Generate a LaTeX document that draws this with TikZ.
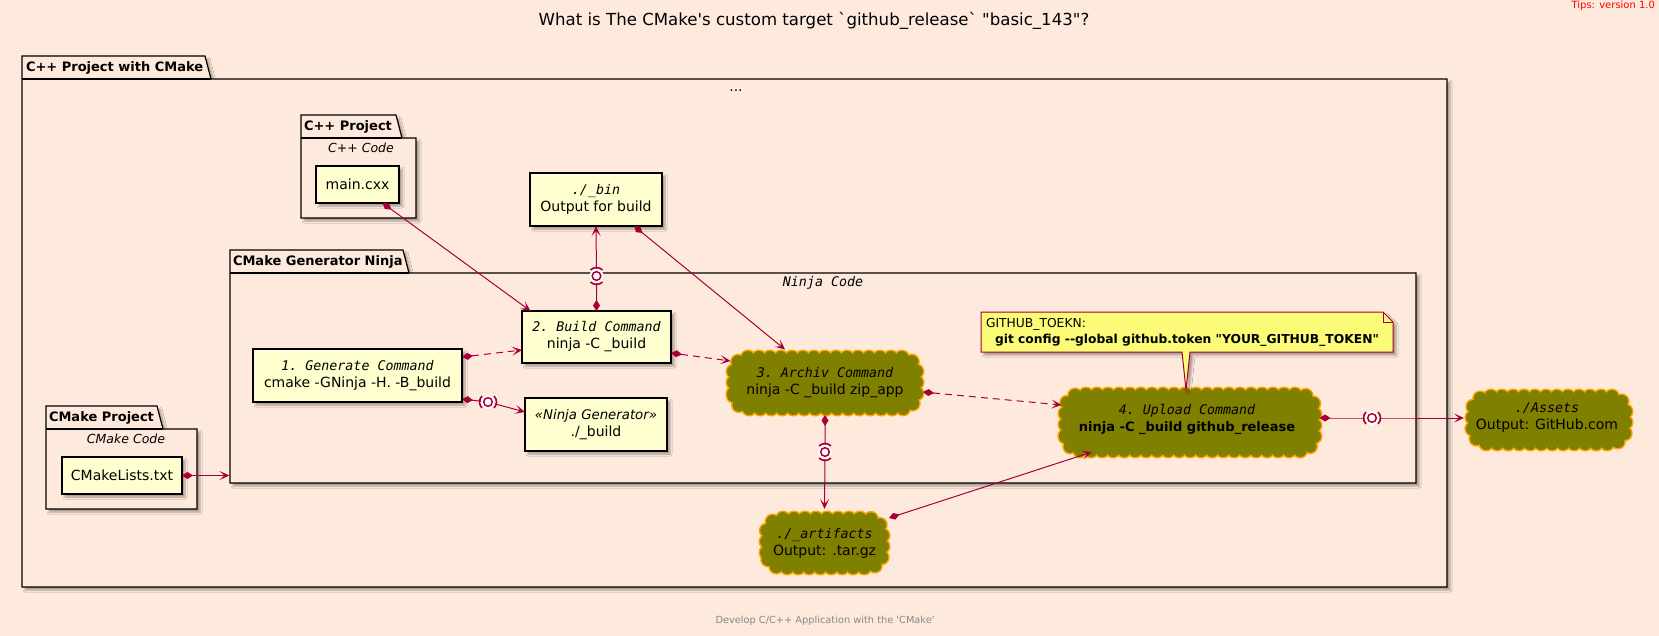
\documentclass[tikz,border=0pt]{standalone}
\usepackage{fontspec}
\setmainfont{DejaVu Sans}
\setmonofont{DejaVu Sans Mono}
\newfontfamily\plainsf{DejaVu Sans}
\usetikzlibrary{arrows.meta,decorations.markings,shadows.blur,calc}
\definecolor{bgc}{HTML}{FEEADC}
\definecolor{boxfill}{HTML}{FEFECE}
\definecolor{arrowc}{HTML}{A80036}
\definecolor{cloudfill}{HTML}{808000}
\definecolor{cloudline}{HTML}{FFA500}
\definecolor{notefill}{HTML}{FBFB77}
\definecolor{footc}{HTML}{888888}
\newcommand{\fsz}[1]{\fontsize{#1}{17}\selectfont}
\newcommand{\mi}[1]{{\fontsize{13.3}{17}\selectfont\ttfamily\itshape #1}}
\newcommand{\pkgbox}[6]{%
  \path[pkgline] (#1,#3) -- (#1,#2) -- (#4,#2) -- (#4+6,#3) -- (#5,#3) -- (#5,#6) -- (#1,#6) -- cycle;
  \draw[line width=1.2pt] (#1,#3) -- (#4+6,#3);}
\newcommand{\sock}[2]{%
  \fill[white] (#1) circle (7);
  \draw[arrowc, line width=1.5pt] (#1) circle (4.3);
  \draw[arrowc, line width=1.6pt] (#1) ++(#2-45:8.5) arc[start angle=#2-45, end angle=#2+45, radius=8.5];
  \draw[arrowc, line width=1.6pt] (#1) ++(#2+135:8.5) arc[start angle=#2+135, end angle=#2+225, radius=8.5];}
% scalloped cloud drawn round an (empty) named node
\newcommand{\cloudbg}[1]{%
  \path[rounded corners=15pt, postaction={decorate, decoration={markings, mark=between positions 0 and 1 step 11pt with {\draw[cloudline, line width=3pt] (0,0) circle[radius=6.5pt];}}}] ($(#1.south west)+(6.5,-6.5)$) rectangle ($(#1.north east)+(-6.5,6.5)$);
  \path[rounded corners=15pt, postaction={decorate, decoration={markings, mark=between positions 0 and 1 step 11pt with {\fill[cloudfill] (0,0) circle[radius=6.5pt];}}}] ($(#1.south west)+(6.5,-6.5)$) rectangle ($(#1.north east)+(-6.5,6.5)$);
  \fill[cloudfill, rounded corners=15pt] ($(#1.south west)+(6.5,-6.5)$) rectangle ($(#1.north east)+(-6.5,6.5)$);}
\begin{document}
\begin{tikzpicture}[x=1pt,y=-1pt,
  every node/.style={inner sep=0pt, outer sep=0pt},
  shad/.style={blur shadow={shadow xshift=3pt, shadow yshift=-3pt, shadow blur radius=2pt, shadow opacity=35}},
  pkgline/.style={draw=black, line width=1.2pt, fill=bgc, shad},
  pkgtitle/.style={anchor=west, font=\fontsize{13}{15}\selectfont\bfseries},
  pkgdesc/.style={font=\fontsize{12.5}{15}\selectfont\itshape},
  box/.style={draw=black, line width=1.2pt, fill=boxfill, shad, align=center, font=\fsz{14}},
  cloudtext/.style={align=center, font=\fsz{14}},
  conn/.style={draw=arrowc, line width=1pt, {Diamond[length=11pt,width=7pt]}-{Stealth[length=10pt,width=9pt,inset=5pt]}},
  dashconn/.style={conn, dash pattern=on 7pt off 5pt},
]
\useasboundingbox (0,0) rectangle (1659,636);
\fill[bgc] (0,0) rectangle (1659,636);
\pkgbox{22}{56}{79}{205}{1447}{587}
\pkgbox{301}{115}{138}{396}{416}{218}
\pkgbox{230}{250}{273}{403}{1416}{483}
\pkgbox{46}{406}{429}{157}{197}{509}

% title, tips, footer
\node[font=\plainsf\fontsize{16.6}{20}\selectfont] (title) at (814,21) {What is The CMake's custom target `github\_release` "basic\_143"?};
\node[anchor=north east, text=red, font=\plainsf\fontsize{10}{12}\selectfont] (tips) at (1655,1) {Tips: version 1.0};
\node[text=footc, font=\plainsf\fontsize{9.8}{12}\selectfont] (foot) at (825,621) {Develop C/C++ Application with the 'CMake'};

% package labels
\node[pkgtitle] (tOuter) at (26,68) {C++ Project with CMake};
\node[font=\fsz{14}] (dOuter) at (736,91) {...};
\node[pkgtitle] (tCpp) at (304,127) {C++ Project};
\node[pkgdesc] (dCpp) at (361,148) {C++ Code};
\node[pkgtitle] (tNinja) at (233,262) {CMake Generator Ninja};
\node (dNinja) at (823,283) {\mi{Ninja Code}};
\node[pkgtitle] (tCMake) at (49,418) {CMake Project};
\node[pkgdesc] (dCMake) at (126,439) {CMake Code};

% boxes
\node[box, minimum width=83pt, minimum height=37pt] (main) at (357.5,184.5) {main.cxx};
\node[box, minimum width=132pt, minimum height=53pt] (bin) at (596,199.5) {\mi{./\_bin}\\Output for build};
\node[box, minimum width=149pt, minimum height=52pt] (n2) at (596.5,337) {\mi{2. Build Command}\\ninja -C \_build};
\node[box, minimum width=209pt, minimum height=53pt] (n1) at (357.5,375.5) {\mi{1. Generate Command}\\cmake -GNinja -H. -B\_build};
\node[box, minimum width=142pt, minimum height=53pt] (ng) at (596,424.5) {{\fontsize{13.3}{17}\selectfont\itshape «Ninja Generator»}\\./\_build};
\node[box, minimum width=120pt, minimum height=37pt] (cml) at (122,475.5) {CMakeLists.txt};

% clouds: outline node, scalloped background, then the text
\node[minimum width=196pt, minimum height=64pt] (n3) at (825,383) {};
\node[minimum width=129pt, minimum height=62pt] (art) at (824.5,543) {};
\node[minimum width=262pt, minimum height=69pt] (n4) at (1190,422.5) {};
\node[minimum width=166pt, minimum height=60pt] (assets) at (1549,420) {};
\cloudbg{n3}
\cloudbg{art}
\cloudbg{n4}
\cloudbg{assets}
\node[cloudtext] (n3t) at (n3) {\mi{3. Archiv Command}\\ninja -C \_build zip\_app};
\node[cloudtext] (artt) at (art) {\mi{./\_artifacts}\\Output: .tar.gz};
\node[cloudtext] (n4t) at ($(n4)+(-3,-3)$) {\mi{4. Upload Command}\\{\fontsize{13}{17}\selectfont\bfseries ninja -C \_build github\_release}};
\node[cloudtext] (assetst) at ($(assets)+(-2,-2)$) {\mi{./Assets}\\Output: GitHub.com};

% note
\coordinate (ptip) at ($(n4.north)+(-4,2)$);
\path[draw=arrowc, fill=notefill, line width=1pt, shad] (981,312) -- (1383,312) -- (1393,322) -- (1393,352) -- (1190,352) -- (ptip) -- (1182,352) -- (981,352) -- cycle;
\draw[arrowc, line width=1pt] (1383,312) -- (1383,322) -- (1393,322);
\node[anchor=west, align=left, font=\plainsf\fontsize{12.3}{16}\selectfont] (note) at (986,332) {GITHUB\_TOEKN:\\\hspace*{9pt}\textbf{git config --global github.token "YOUR\_GITHUB\_TOKEN"}};

% connectors
\coordinate (ninjaW) at (229.4,475.5);
\coordinate (s1) at (488,402);
\coordinate (s2) at (596.5,276);
\coordinate (s3) at (825,452);
\coordinate (s4) at (1372,418);

\path[conn] ($(main.south)+(25,0)$) -- ($(n2.north)+(-66,0)$);
\path[dashconn] ($(n1.east)+(0,-18.5)$) -- ($(n2.west)+(0,13)$);
\path[conn] ($(n1.east)+(0,23.5)$) -- (s1) -- ($(ng.west)+(0,-12.5)$);
\path[conn] (n2.north) -- (s2) -- (bin.south);
\path[conn] ($(bin.south)+(38,0)$) -- ($(n3.north)+(-40,-1.5)$);
\path[dashconn] ($(n2.east)+(0,16)$) -- ($(n3.west)+(3.5,-22)$);
\path[dashconn] ($(n3.east)+(0,9)$) -- ($(n4.west)+(2.5,-17.5)$);
\path[conn] (n3.south) -- (s3) -- ($(art.north)+(0,-3)$);
\path[conn] ($(art.east)+(0,-25)$) -- ($(n4.south)+(-98,-5)$);
\path[conn] ($(n4.east)+(-1.5,-4.5)$) -- (s4) -- ($(assets.west)+(-2,-2)$);
\path[conn] (cml.east) -- (ninjaW);

\sock{s1}{0}
\sock{s2}{90}
\sock{s3}{90}
\sock{s4}{0}
\end{tikzpicture}
\end{document}
